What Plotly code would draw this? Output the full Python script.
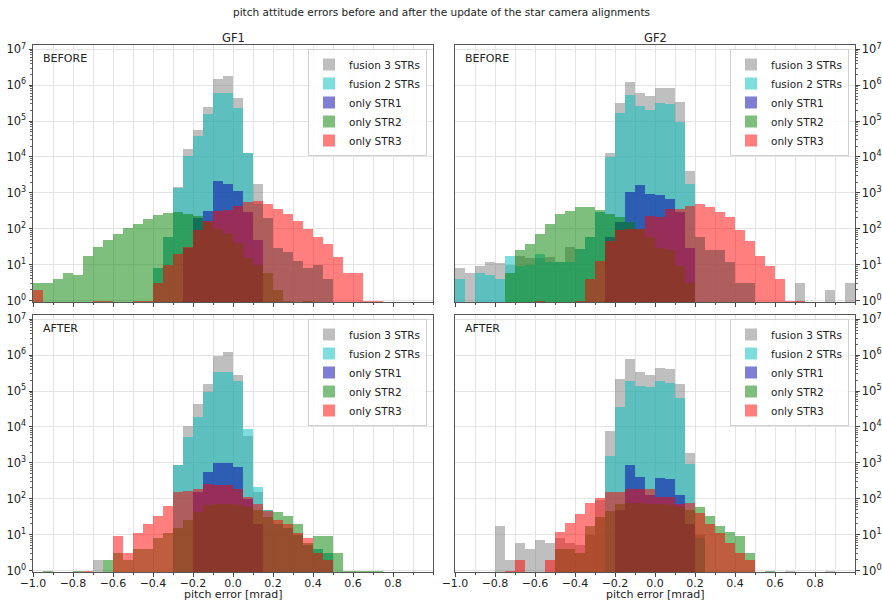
import plotly.graph_objects as go

# ---------------- data (counts per 0.05 mrad bin, -1.0 .. 1.0) ----------------
BIN_START = -1.0
BIN_WIDTH = 0.05
N_BINS = 40
X_TICKS = [-1.0, -0.8, -0.6, -0.4, -0.2, 0.0, 0.2, 0.4, 0.6, 0.8]
Y_TICKS = [1, 10, 100, 1000, 10000, 100000, 1000000, 10000000]
Y_TICK_TEXT = ["10<sup>%d</sup>" % k for k in range(8)]
SERIES_NAMES = ["fusion 3 STRs", "fusion 2 STRs", "only STR1", "only STR2", "only STR3"]

GF1_BEFORE_FUSION3 = [0]*12 + [8, 60, 1500, 17000, 58000, 250000, 1500000, 1800000, 450000, 13000,
                               1800, 200, 30, 22, 13, 8, 10, 4] + [0]*10
GF1_BEFORE_FUSION2 = [0]*12 + [8, 60, 1400, 11000, 39000, 160000, 590000, 590000, 230000, 13000,
                               500, 200, 30, 22, 13, 8, 10, 4] + [0]*10
GF1_BEFORE_STR1 = [0]*15 + [30, 200, 320, 2100, 1800, 1100, 300, 50] + [0]*17
GF1_BEFORE_STR2 = [3, 3, 4, 6, 5, 18, 31, 49, 73, 104, 132, 190, 245, 275, 300, 260, 230, 150, 100, 70,
                   40, 15, 10, 6, 2, 1, 0, 1] + [0]*12
GF1_BEFORE_STR3 = [2, 0, 0, 0, 0, 0, 1, 1, 0, 0, 1, 1, 3, 10, 20, 31, 90, 170, 320, 330,
                   440, 550, 590, 500, 360, 260, 170, 100, 59, 38, 16, 6, 6, 1, 1, 0, 0, 0, 0, 0]

GF2_BEFORE_FUSION3 = [8, 6, 9, 12, 11, 10, 18, 15, 15, 16, 12, 31, 28, 60, 300, 12600, 310000, 1200000,
                      590000, 500000, 830000, 830000, 330000, 4200, 60, 25, 25, 12, 3, 3,
                      0, 0, 0, 0, 3, 0, 0, 2, 0, 3]
GF2_BEFORE_FUSION2 = [4, 0, 6, 5, 4, 17, 9, 10, 20, 12, 12, 12, 28, 59, 300, 9800, 170000, 540000,
                      270000, 210000, 310000, 300000, 92000, 1800, 60, 25, 25, 12, 3, 3] + [0]*10
GF2_BEFORE_STR1 = [0]*15 + [60, 150, 1050, 1660, 940, 850, 680, 300, 30] + [0]*16
GF2_BEFORE_STR2 = [0]*5 + [6, 25, 38, 73, 132, 260, 310, 415, 415, 330, 260, 210, 150, 100, 60,
                           30, 25, 9, 3] + [0]*16
GF2_BEFORE_STR3 = [0]*8 + [1, 0, 0, 0, 1, 4, 13, 47, 90, 100, 100, 220, 210, 360, 360, 440, 490,
                           400, 290, 210, 90, 47, 18, 9, 4, 1, 1] + [0]*5

GF1_AFTER_FUSION3 = [0]*6 + [2] + [0]*7 + [850, 11000, 44000, 155000, 960000, 1240000, 280000, 5700,
                                          150, 50, 20, 15, 10, 5, 4, 3] + [0]*10
GF1_AFTER_FUSION2 = [0]*14 + [850, 5400, 18600, 96000, 330000, 330000, 190000, 8800,
                              210, 50, 20, 15, 10, 5, 4, 3] + [0]*10
GF1_AFTER_STR1 = [0]*16 + [150, 550, 980, 980, 760, 100, 20] + [0]*17
GF1_AFTER_STR2 = [0, 1, 0, 0, 1, 0, 0, 2, 3, 2, 4, 4, 8, 11, 15, 25, 43, 65, 73, 70,
                  65, 60, 50, 31, 43, 34, 20, 6, 9, 9, 3, 1, 1, 1, 1, 0, 0, 0, 0, 0]
GF1_AFTER_STR3 = [0]*5 + [1, 0, 0, 9, 3, 11, 20, 34, 61, 150, 170, 190, 260, 240, 240,
                          190, 110, 73, 47, 25, 20, 11, 8, 3, 2] + [0]*10

GF2_AFTER_FUSION3 = [0]*4 + [17, 2, 6, 4, 7, 6, 8, 6, 5, 10, 90, 7900, 220000, 800000, 340000,
                             280000, 450000, 410000, 160000, 1860, 10] + [0]*8 + [1, 0, 0, 0, 1, 0, 0]
GF2_AFTER_FUSION2 = [0]*15 + [1600, 37000, 190000, 140000, 130000, 190000, 170000, 63000, 940, 8] + [0]*15
GF2_AFTER_STR1 = [0]*16 + [50, 850, 400, 125, 380, 360, 124, 20] + [0]*16
GF2_AFTER_STR2 = [0]*10 + [4, 4, 3, 18, 31, 47, 73, 75, 75, 70, 70, 65, 60, 50, 59, 34, 18, 12, 9, 3,
                           0, 1] + [0]*8
GF2_AFTER_STR3 = [0]*5 + [1, 2, 0, 0, 2, 12, 21, 38, 76, 105, 150, 150, 190, 190, 190,
                          115, 110, 73, 75, 40, 20, 11, 6, 3, 2] + [0]*10

PANELS = [
    ("GF1", "BEFORE", [GF1_BEFORE_FUSION3, GF1_BEFORE_FUSION2, GF1_BEFORE_STR1, GF1_BEFORE_STR2, GF1_BEFORE_STR3]),
    ("GF2", "BEFORE", [GF2_BEFORE_FUSION3, GF2_BEFORE_FUSION2, GF2_BEFORE_STR1, GF2_BEFORE_STR2, GF2_BEFORE_STR3]),
    ("GF1", "AFTER", [GF1_AFTER_FUSION3, GF1_AFTER_FUSION2, GF1_AFTER_STR1, GF1_AFTER_STR2, GF1_AFTER_STR3]),
    ("GF2", "AFTER", [GF2_AFTER_FUSION3, GF2_AFTER_FUSION2, GF2_AFTER_STR1, GF2_AFTER_STR2, GF2_AFTER_STR3]),
]

# ---------------- styling ----------------
W, H = 882, 603
COLORS = ["rgb(128,128,128)", "rgb(0,191,191)", "rgb(0,0,170)", "rgb(0,128,0)", "rgb(255,0,0)"]
OPACITY = 0.5
FONT = "DejaVu Sans"
bin_centers = [BIN_START + BIN_WIDTH * (i + 0.5) for i in range(N_BINS)]

# panel boxes in pixels (left, right, top, bottom)
BOXES = [(33, 433, 45, 302), (455, 855, 45, 302), (33, 433, 315, 572), (455, 855, 315, 572)]

fig = go.Figure()
legend_names = ["legend", "legend2", "legend3", "legend4"]
for p, (gf, phase, series) in enumerate(PANELS):
    ax = "" if p == 0 else str(p + 1)
    for s, vals in enumerate(series):
        fig.add_trace(go.Bar(
            x=bin_centers,
            y=[v if v > 0 else None for v in vals],
            width=BIN_WIDTH,
            name=SERIES_NAMES[s],
            marker=dict(color=COLORS[s], line=dict(width=0)),
            opacity=OPACITY,
            xaxis="x" + ax, yaxis="y" + ax,
            legend=legend_names[p],
            hoverinfo="skip",
        ))

minor_y = []
for d in range(7):
    for m in range(2, 10):
        minor_y.append(m * 10 ** d)

layout = dict(
    width=W, height=H,
    margin=dict(l=0, r=0, t=0, b=0, autoexpand=False),
    paper_bgcolor="white", plot_bgcolor="white",
    barmode="overlay", bargap=0,
    font=dict(family=FONT, size=11, color="#222"),
    annotations=[],
)

for p, (gf, phase, series) in enumerate(PANELS):
    l, r, t, b = BOXES[p]
    ax = "" if p == 0 else str(p + 1)
    bottom = p >= 2
    right = p % 2 == 1
    layout["xaxis" + ax] = dict(
        domain=[l / W, r / W], anchor="y" + ax, range=[-1.0, 1.0], automargin=False,
        tickmode="array", tickvals=X_TICKS, tickformat=".1f",
        showticklabels=bottom, ticks="outside", ticklen=3.5, tickcolor="#444",
        ticklabelstandoff=-3,
        showgrid=True, gridcolor="#e4e4e4", gridwidth=1,
        minor=dict(tick0=-1.0, dtick=0.1, showgrid=True, gridcolor="#e4e4e4",
                   ticks="outside", ticklen=2, tickcolor="#444"),
        showline=True, mirror=True, linecolor="#555", linewidth=1,
        zeroline=False, tickfont=dict(size=11, color="#222"),
    )
    layout["yaxis" + ax] = dict(
        domain=[1 - b / H, 1 - t / H], anchor="x" + ax, type="log", range=[-0.04, 7.12],
        automargin=False,
        tickmode="array", tickvals=Y_TICKS, ticktext=Y_TICK_TEXT,
        side="right" if right else "left",
        ticks="outside", ticklen=3.5, tickcolor="#444",
        minor=dict(tickmode="array", tickvals=minor_y, ticks="outside", ticklen=2,
                   tickcolor="#666", showgrid=False),
        showgrid=True, gridcolor="#e4e4e4", gridwidth=1,
        showline=True, mirror=True, linecolor="#555", linewidth=1,
        zeroline=False, tickfont=dict(size=11.5, color="#222"),
    )
    layout[legend_names[p]] = dict(
        x=(r - 6) / W, y=1 - (t + 4) / H, xanchor="right", yanchor="top",
        bgcolor="rgba(255,255,255,0.85)", bordercolor="#d0d0d0", borderwidth=1,
        font=dict(size=10.5, color="#222"), itemwidth=30, tracegroupgap=0,
        traceorder="normal",
    )
    layout["annotations"].append(dict(
        text=phase, x=(l + 8) / W, y=1 - (t + 13) / H, xref="paper", yref="paper",
        xanchor="left", yanchor="middle", showarrow=False, font=dict(size=11, color="#222")))
    if not bottom:
        layout["annotations"].append(dict(
            text=gf, x=(l + r) / 2 / W, y=1 - 38 / H, xref="paper", yref="paper",
            xanchor="center", yanchor="middle", showarrow=False, font=dict(size=11.5, color="#222")))
    else:
        layout["annotations"].append(dict(
            text="pitch error [mrad]", x=(l + r) / 2 / W, y=0, xref="paper", yref="paper",
            xanchor="center", yanchor="bottom", showarrow=False, font=dict(size=11, color="#222")))

layout["annotations"].append(dict(
    text="pitch attitude errors before and after the update of the star camera alignments",
    x=0.5, y=1 - 12 / H, xref="paper", yref="paper", xanchor="center", yanchor="middle",
    showarrow=False, font=dict(size=10.5, color="#222")))

fig.update_layout(**layout)
fig.write_html("out.html")
